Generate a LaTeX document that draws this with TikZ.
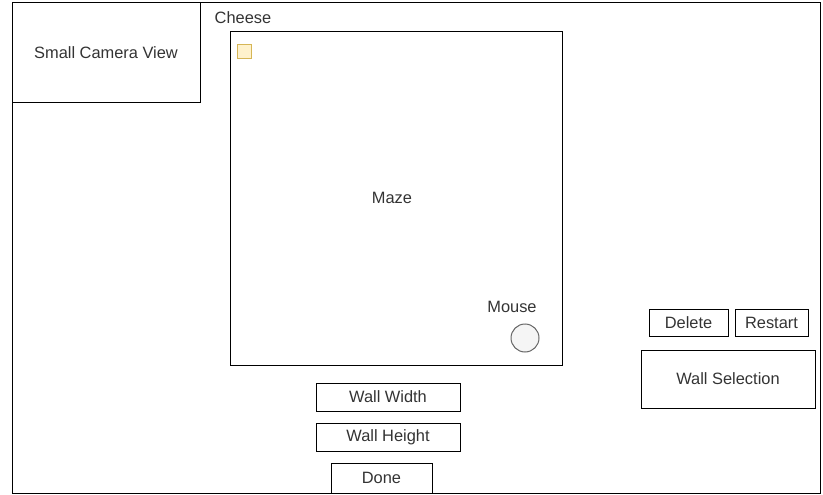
\documentclass[tikz,border=0pt]{standalone}
\usepackage{fontspec}
\setmainfont{Liberation Sans}
\usepackage{xcolor}
\usetikzlibrary{positioning}
\definecolor{cheesefill}{HTML}{FFF2CC}
\definecolor{cheeseline}{HTML}{D6B656}
\definecolor{mousefill}{HTML}{F5F5F5}
\definecolor{mouseline}{HTML}{666666}
\definecolor{txt}{HTML}{333333}

\begin{document}
\begin{tikzpicture}[
  x=0.75pt, y=-0.75pt,
  font=\fontsize{12.3pt}{14pt}\selectfont, text=txt,
  panel/.style={draw=black, line width=0.75pt, align=center, inner sep=0pt},
  button/.style={draw=black, line width=0.75pt, align=center, inner sep=0pt},
  label/.style={inner sep=0pt, align=center}
]
\useasboundingbox (0,0) rectangle (823,495);
% outer window
\node[panel, minimum width=808*0.75pt, minimum height=490*0.75pt] (window) at (416,248) {};
\node[panel, minimum width=188*0.75pt, minimum height=100*0.75pt] (camera) at (106,53) {Small Camera View};
\node[panel, minimum width=332*0.75pt, minimum height=333*0.75pt] (maze) at (396,198.5) {};
\node[label] (mazelbl) at (392,198) {Maze};

% cheese and mouse
\node[draw=cheeseline, fill=cheesefill, line width=0.75pt, minimum size=14*0.75pt, inner sep=0pt] (cheese) at (244,52) {};
\node[label] (cheeselbl) at (243,18) {Cheese};
\node[draw=mouseline, fill=mousefill, line width=0.75pt, circle, minimum size=28*0.75pt, inner sep=0pt] (mouse) at (525,338) {};
\node[label] (mouselbl) at (512,307) {Mouse};

% controls
\node[button, minimum width=79*0.75pt, minimum height=27*0.75pt] (delete) at (688.5,322.5) {Delete};
\node[button, minimum width=73*0.75pt, minimum height=27*0.75pt] (restart) at (771.5,322.5) {Restart};
\node[panel, minimum width=174*0.75pt, minimum height=58*0.75pt] (wallsel) at (728,379) {Wall Selection};
\node[button, minimum width=144*0.75pt, minimum height=28*0.75pt] (wallw) at (388,397) {Wall Width};
\node[button, minimum width=144*0.75pt, minimum height=28*0.75pt] (wallh) at (388,437) {Wall Height};
\node[button, minimum width=101*0.75pt, minimum height=30*0.75pt] (done) at (381.5,478) {Done};
\end{tikzpicture}
\end{document}
